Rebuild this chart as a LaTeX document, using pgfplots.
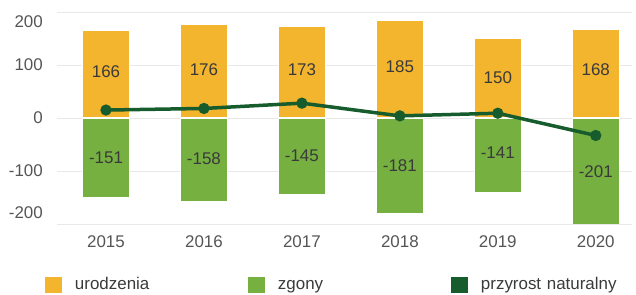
\documentclass[border=0pt]{standalone}
\usepackage{fontspec}
\setmainfont{Liberation Sans}
\usepackage{pgfplots}
\pgfplotsset{compat=1.18}
\definecolor{orng}{HTML}{F3B42E}
\definecolor{grn}{HTML}{76B041}
\definecolor{dgrn}{HTML}{175C2D}
\definecolor{tickc}{HTML}{555555}
\definecolor{lblc}{HTML}{3A3A3A}
\definecolor{gridc}{HTML}{E8E8E8}
\definecolor{axc}{HTML}{CCCCCC}
\pgfplotsset{sqlegend/.style={legend image code/.code={\fill[##1,draw=none] (0bp,-8bp) rectangle (17bp,8bp);}}}
\newcommand{\ff}{\fontsize{17}{20}\selectfont}
\begin{document}
\begin{tikzpicture}
\useasboundingbox (0,0) rectangle (636bp,295bp);
\begin{axis}[
  at={(57bp,71bp)}, anchor=south west,
  scale only axis, width=575bp, height=212bp,
  xmin=-0.5, xmax=5.37, ymin=-200, ymax=200,
  axis line style={draw=none},
  major tick length=0pt,
  xtick={0,1,2,3,4,5}, xticklabels={2015,2016,2017,2018,2019,2020},
  ytick={-200,-100,0,100,200}, yticklabels={},
  ymajorgrids, grid style={draw=gridc, line width=0.8bp},
  extra y ticks={-179,-100,0,100,181},
  extra y tick labels={-200,-100,0,100,200},
  extra y tick style={grid=none, major tick length=0pt},
  x tick label style={font=\ff, color=tickc, inner sep=0pt, yshift=-11bp},
  y tick label style={font=\ff, color=tickc, inner sep=0pt, xshift=-14bp},
  legend columns=3,
  legend style={at={(-0.0209,-0.2877)}, anchor=west, draw=none, fill=none,
    inner sep=0pt, outer sep=0pt,
    nodes={inner sep=0pt, text width=173bp, align=left, font=\ff, text=lblc, text height=13bp, text depth=3bp},
    /tikz/every odd column/.style={column sep=13bp},
    /tikz/every even column/.style={column sep=0pt}},
  legend cell align=left,
]
\addplot[ybar, bar width=47bp, bar shift=0pt, fill=orng, draw=white, line width=1.4bp, sqlegend]
  coordinates {(0,166)(1,176)(2,173)(3,185)(4,150)(5,168)};
\addlegendentry{urodzenia}
\addplot[ybar, bar width=47bp, bar shift=0pt, fill=grn, draw=white, line width=1.4bp, sqlegend]
  coordinates {(0,-151)(1,-158)(2,-145)(3,-181)(4,-141)(5,-201)};
\addlegendentry{zgony}
\addplot[forget plot, draw=none, mark=none, nodes near coords, point meta=explicit symbolic,
  nodes near coords style={anchor=center, font=\ff, color=lblc}]
  coordinates {(0,87)[166] (1,91)[176] (2,92)[173] (3,96)[185] (4,77)[150] (5,91)[168]
               (0,-75)[-151] (1,-77)[-158] (2,-72)[-145] (3,-89)[-181] (4,-66)[-141] (5,-102)[-201]};
\addplot[dgrn, line width=3.5bp, mark=*, mark size=3.8bp, mark options={fill=dgrn, draw=dgrn}, sqlegend]
  coordinates {(0,15)(1,18)(2,28)(3,4)(4,9)(5,-33)};
\addlegendentry{przyrost naturalny}
\draw[axc, line width=1bp] (rel axis cs:0,0) -- (rel axis cs:1,0);
\end{axis}
\end{tikzpicture}
\end{document}
